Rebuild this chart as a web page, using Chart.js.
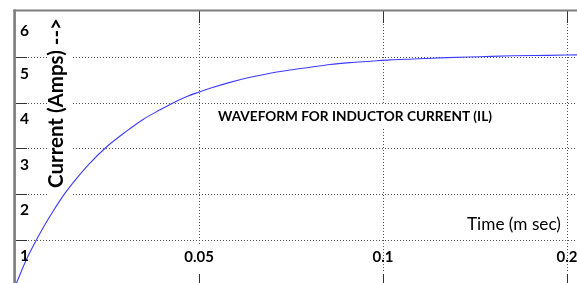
<!DOCTYPE html>
<html>
<head>
<meta charset="utf-8">
<script src="https://cdn.jsdelivr.net/npm/chart.js@4"></script>
<style>
  html, body { margin: 0; padding: 0; background: #fff; }
  #c { display: block; }
</style>
</head>
<body>
<canvas id="c" width="577" height="283"></canvas>
<script>
// ---- data ----
const timeMs = [0, 0.0005, 0.0027, 0.0049, 0.0076, 0.0103, 0.0136, 0.0168, 0.0198, 0.0250,
  0.0304, 0.0348, 0.0394, 0.0429, 0.0467, 0.0497, 0.0530, 0.0584, 0.0639, 0.0693, 0.0747,
  0.0802, 0.0856, 0.0910, 0.0965, 0.1019, 0.1082, 0.1174, 0.1264, 0.1353, 0.1446, 0.1527];
const currentA = [0, 0.08, 0.50, 0.86, 1.26, 1.62, 2.02, 2.35, 2.63, 3.04,
  3.38, 3.63, 3.84, 3.99, 4.13, 4.22, 4.31, 4.44, 4.55, 4.64, 4.71,
  4.77, 4.83, 4.87, 4.90, 4.93, 4.95, 4.98, 5.00, 5.02, 5.03, 5.04];
const yGridValues = [1, 2, 3, 4, 5];
const yTickValues = [1, 2, 3, 4, 5, 6];
const yTickLabels = ['1', '2', '3', '4', '5', '6'];
const xGridValues = [0.05, 0.1, 0.15];
const xTickLabels = ['0.05', '0.1', '0.2'];
const titleText = 'WAVEFORM FOR INDUCTOR CURRENT (IL)';
const yTitleText = 'Current (Amps) -->';
const xTitleText = 'Time (m sec)';

const FONT = 'Lato, "Open Sans", "DejaVu Sans", sans-serif';

function fitFont(ctx, text, weight, target) {
  ctx.font = weight + ' 20px ' + FONT;
  const w = ctx.measureText(text).width;
  return 20 * target / w;
}

const scopePlugin = {
  id: 'scope',
  beforeDatasetsDraw(chart) {
    const ctx = chart.ctx;
    const xs = chart.scales.x, ys = chart.scales.y;
    const W = chart.width, H = chart.height;
    ctx.save();
    // horizontal grid
    yGridValues.forEach(v => {
      const y = Math.round(ys.getPixelForValue(v)) + 0.5;
      ctx.setLineDash([]);
      ctx.strokeStyle = '#333';
      ctx.lineWidth = 1;
      ctx.beginPath(); ctx.moveTo(16, y); ctx.lineTo(27, y); ctx.stroke();
      ctx.setLineDash([1, 2]);
      ctx.strokeStyle = '#555';
      ctx.beginPath(); ctx.moveTo(28, y); ctx.lineTo(W, y); ctx.stroke();
    });
    // vertical grid
    xGridValues.forEach(t => {
      const x = Math.round(xs.getPixelForValue(t)) + 0.5;
      ctx.setLineDash([1, 2]);
      ctx.strokeStyle = '#555';
      ctx.beginPath(); ctx.moveTo(x, 24); ctx.lineTo(x, 273); ctx.stroke();
      ctx.setLineDash([]);
      ctx.strokeStyle = '#333';
      ctx.beginPath(); ctx.moveTo(x, 11); ctx.lineTo(x, 23); ctx.stroke();
      ctx.beginPath(); ctx.moveTo(x, 274); ctx.lineTo(x, H); ctx.stroke();
    });
    ctx.setLineDash([]);
    // white boxes behind overlaid texts
    ctx.fillStyle = '#fff';
    ctx.fillRect(47, 14, 26, 184);
    ctx.fillRect(214, 104, 282, 24);
    const x05 = xs.getPixelForValue(xGridValues[0]);
    ctx.fillRect(x05 - 16, 245, 32, 27);
    // borders
    ctx.strokeStyle = '#7c7c7c';
    ctx.lineWidth = 2;
    ctx.beginPath(); ctx.moveTo(13.5, 10.5); ctx.lineTo(W, 10.5); ctx.stroke();
    ctx.lineWidth = 2.6;
    ctx.beginPath(); ctx.moveTo(14.6, 9.5); ctx.lineTo(14.6, H); ctx.stroke();
    ctx.restore();
  },
  afterDatasetsDraw(chart) {
    const ctx = chart.ctx;
    const xs = chart.scales.x, ys = chart.scales.y;
    ctx.save();
    ctx.fillStyle = '#000';
    // y tick labels (placed just below each value line, as in the reference)
    ctx.font = 'bold 15.5px ' + FONT;
    ctx.textAlign = 'center';
    ctx.textBaseline = 'alphabetic';
    yTickValues.forEach((v, i) => {
      const y = ys.getPixelForValue(v);
      const off = (v === 6) ? 25 : 22;
      ctx.fillText(yTickLabels[i], 24.5, y + off - (5 - Math.min(v,5)) * 0.3);
    });
    // x tick labels
    ctx.font = 'bold 15px ' + FONT;
    xGridValues.forEach((t, i) => {
      const x = xs.getPixelForValue(t);
      ctx.fillText(xTickLabels[i], x, 262);
    });
    // x title
    ctx.textAlign = 'left';
    let fs = fitFont(ctx, xTitleText, 'normal', 94);
    ctx.font = 'normal ' + fs.toFixed(2) + 'px ' + FONT;
    ctx.fillText(xTitleText, 467, 229.5);
    // chart title
    fs = fitFont(ctx, titleText, 'bold', 274);
    ctx.font = 'bold ' + fs.toFixed(2) + 'px ' + FONT;
    ctx.fillText(titleText, 218, 121);
    // y title (rotated)
    fs = fitFont(ctx, yTitleText, 'bold', 170);
    ctx.font = 'bold ' + fs.toFixed(2) + 'px ' + FONT;
    ctx.translate(63, 188);
    ctx.rotate(-Math.PI / 2);
    ctx.fillText(yTitleText, 0, 0);
    ctx.restore();
  }
};

const points = timeMs.map((t, i) => ({ x: t, y: currentA[i] }));

new Chart(document.getElementById('c'), {
  type: 'line',
  data: {
    datasets: [{
      data: points,
      borderColor: '#3c3cff',
      borderWidth: 1.1,
      pointRadius: 0,
      fill: false,
      cubicInterpolationMode: 'monotone'
    }]
  },
  options: {
    responsive: false,
    animation: false,
    layout: { padding: { left: 15, top: 10, right: 0, bottom: 0 } },
    scales: {
      x: { type: 'linear', min: 0, max: 0.1527, display: false },
      y: { type: 'linear', min: 0.059, max: 6.02, display: false }
    },
    plugins: { legend: { display: false }, tooltip: { enabled: false }, title: { display: false } }
  },
  plugins: [
    { id: 'bg', beforeDraw(c) { c.ctx.save(); c.ctx.fillStyle = '#fff'; c.ctx.fillRect(0, 0, c.width, c.height); c.ctx.restore(); } },
    scopePlugin
  ]
});
</script>
</body>
</html>
